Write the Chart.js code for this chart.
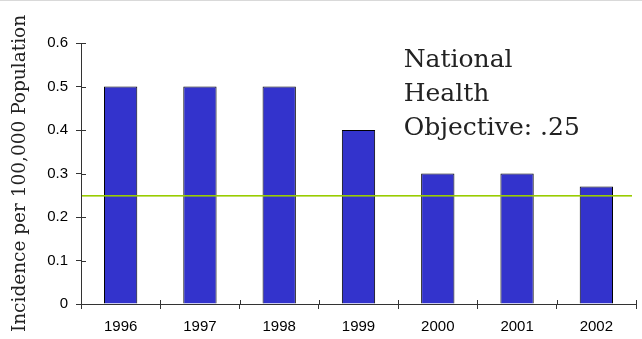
<!DOCTYPE html>
<html>
<head>
<meta charset="utf-8">
<script src="https://cdn.jsdelivr.net/npm/chart.js@4/dist/chart.umd.min.js"></script>
<style>
  html, body { margin: 0; padding: 0; background: #fff; }
  #wrap { width: 642px; height: 339px; position: relative; }
</style>
</head>
<body>
<div id="wrap"><canvas id="chart"></canvas></div>
<script>
// data
const years = ['1996', '1997', '1998', '1999', '2000', '2001', '2002'];
const incidence = [0.5, 0.5, 0.5, 0.4, 0.3, 0.3, 0.27];
const objective = 0.25;
const objectiveLines = ['National', 'Health', 'Objective: .25'];
const yTitle = 'Incidence per 100,000 Population';

// objective line, note text, inner half of tick marks, top rule
const extras = {
  id: 'extras',
  afterDatasetsDraw(chart) {
    const { ctx, chartArea, scales } = chart;
    const x = scales.x, y = scales.y;
    ctx.save();

    ctx.fillStyle = '#d9d9d9';
    ctx.fillRect(0, 0, chart.width, 1);

    // objective line, filled as a rect so it stays crisp
    const yObj = Math.round(y.getPixelForValue(objective));
    ctx.fillStyle = '#99cc00';
    ctx.fillRect(chartArea.left + 1, yObj, chartArea.right - 5 - chartArea.left, 1.6);

    ctx.strokeStyle = '#333';
    ctx.lineWidth = 1;
    ctx.beginPath();
    y.ticks.forEach((t, i) => {
      const py = Math.round(y.getPixelForTick(i)) + 0.5;
      ctx.moveTo(chartArea.left, py);
      ctx.lineTo(chartArea.left + 5, py);
    });
    const step = (chartArea.right - chartArea.left) / years.length;
    for (let i = 1; i <= years.length; i++) {
      const px = Math.round(chartArea.left + step * i) + 0.5;
      ctx.moveTo(px, chartArea.bottom);
      ctx.lineTo(px, chartArea.bottom - 4);
    }
    ctx.stroke();

    ctx.fillStyle = '#222';
    ctx.font = '25px "DejaVu Serif"';
    ctx.textBaseline = 'alphabetic';
    const tx = x.getPixelForValue(4) - step * 0.43;
    objectiveLines.forEach((s, i) => {
      ctx.fillText(s, tx, y.getPixelForValue(0.545) + i * 34);
    });
    ctx.restore();
  }
};

new Chart(document.getElementById('chart'), {
  type: 'bar',
  data: {
    labels: years,
    datasets: [{
      data: incidence,
      backgroundColor: '#3333cc',
      borderColor: '#000',
      borderWidth: 1,
      barPercentage: 0.42,
      categoryPercentage: 1
    }]
  },
  options: {
    responsive: true,
    maintainAspectRatio: false,
    animation: false,
    layout: { padding: { top: 43, right: 6, left: 0, bottom: 0 } },
    plugins: { legend: { display: false }, tooltip: { enabled: false } },
    scales: {
      x: {
        offset: true,
        grid: { offset: true, drawOnChartArea: false, tickLength: 5, color: '#333' },
        border: { color: '#333' },
        ticks: { color: '#000', font: { family: 'Liberation Sans', size: 15 }, padding: 9, maxRotation: 0 },
        afterFit(s) { s.height = 35; }
      },
      y: {
        min: 0,
        max: 0.6,
        ticks: {
          stepSize: 0.1,
          color: '#000',
          padding: 8,
          font: { family: 'Liberation Sans', size: 15 },
          callback: v => v === 0 ? '0' : v.toFixed(1)
        },
        grid: { drawOnChartArea: false, tickLength: 5, color: '#333' },
        border: { color: '#333' },
        title: {
          display: true,
          text: yTitle,
          color: '#222',
          font: { family: 'DejaVu Serif', size: 18.5 },
          padding: { top: 9, bottom: 0 }
        },
        afterFit(s) { s.width = 81; }
      }
    }
  },
  plugins: [extras]
});
</script>
</body>
</html>
